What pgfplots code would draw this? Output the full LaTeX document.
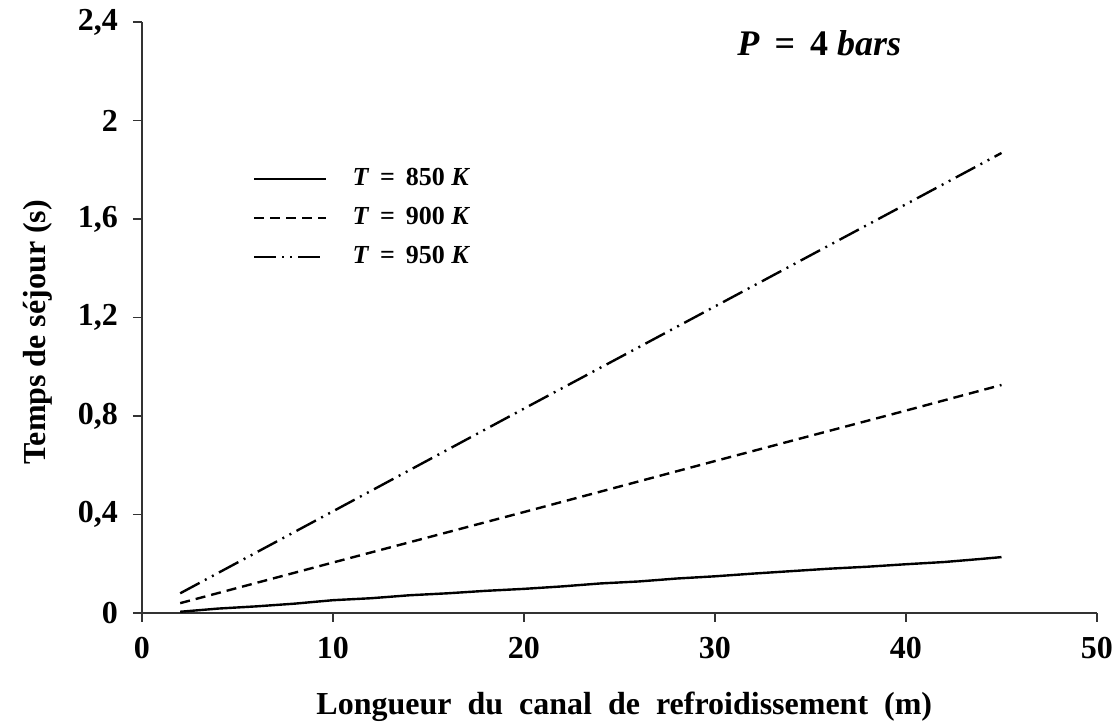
\documentclass[border=0pt]{standalone}
\usepackage{fontspec}
\setmainfont{Liberation Serif}
\usepackage{pgfplots}
\pgfplotsset{compat=1.18}
\begin{document}
\begin{tikzpicture}
\useasboundingbox (-71pt,-56.5pt) rectangle (488pt,306.5pt);
\begin{axis}[
  at={(0,0)}, anchor=south west,
  scale only axis, width=477.5pt, height=295.5pt,
  xmin=0, xmax=50, ymin=0, ymax=2.4,
  axis x line=bottom, axis y line=left,
  axis line style={-, line width=0.7pt, black!80},
  xtick={0,10,20,30,40,50},
  ytick={0,0.4,0.8,1.2,1.6,2,2.4},
  yticklabels={0,{0,4},{0,8},{1,2},{1,6},2,{2,4}},
  tick align=outside, major tick length=4.5pt,
  tick style={black!80, line width=0.7pt},
  ticklabel style={font=\fontsize{16}{18}\selectfont\bfseries},
  /pgf/number format/assume math mode=true,
  yticklabel style={xshift=-4pt},
  xticklabel style={yshift=-4pt},
  xlabel={Longueur~ du~ canal~ de~ refroidissement~ (m)},
  ylabel={Temps de séjour (s)},
  label style={font=\fontsize{16}{19}\selectfont\bfseries},
  xlabel style={at={(axis description cs:0.505,-0.159)}, anchor=center},
  ylabel style={at={(axis description cs:-0.109,0.475)}, anchor=center},
  legend style={at={(axis cs:5.8,1.815)}, anchor=north west, draw=none, fill=none,
    inner sep=0pt, row sep=7pt, column sep=0pt,
    font=\fontsize{13}{15}\selectfont\bfseries,
    nodes={inner sep=0pt, text height=9.5pt, text depth=3pt},
    /tikz/every odd column/.append style={column sep=12.5pt}},
  legend cell align=left,
  legend image code/.code={\draw[#1] (0pt,0pt) -- (36pt,0pt);},
]
\addplot[black, line width=1.2pt] coordinates {
(2,0.005) (4,0.018) (6,0.027) (8,0.038) (10,0.052) (12,0.060) (14,0.072) (16,0.080)
(18,0.090) (20,0.098) (22,0.108) (24,0.120) (26,0.128) (28,0.140) (30,0.149)
(32,0.160) (34,0.170) (36,0.180) (38,0.188) (40,0.198) (42,0.207) (44,0.220) (45,0.227)};
\addlegendentry{\textit{T}\, = \,850 \textit{K}}
\addplot[black, line width=1.2pt, dash pattern=on 5pt off 3pt] coordinates {
(2,0.04) (10,0.205) (20,0.41) (30,0.617) (40,0.822) (45,0.926)};
\addlegendentry{\textit{T}\, = \,900 \textit{K}}
\addplot[black, line width=1.2pt, dash pattern=on 11pt off 3pt on 1pt off 3pt on 1pt off 3pt] coordinates {
(2,0.08) (10,0.413) (20,0.83) (30,1.245) (40,1.66) (45,1.868)};
\addlegendentry{\textit{T}\, = \,950 \textit{K}}
\node[anchor=base west, font=\fontsize{18}{21}\selectfont\bfseries] at (axis cs:30.8,2.262) {\textit{P}\, = \,4 \textit{bars}};
\end{axis}
\end{tikzpicture}
\end{document}
